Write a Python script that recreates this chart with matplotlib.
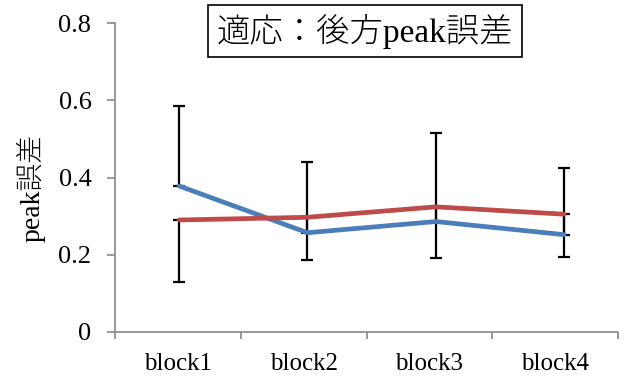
import matplotlib
matplotlib.use("Agg")
import matplotlib.pyplot as plt
from matplotlib.ticker import FixedLocator, NullFormatter

# block categories and the two series (means with one-sided error bars)
blocks = ["block1", "block2", "block3", "block4"]
blue_mean = [0.378, 0.257, 0.286, 0.252]
blue_err_up = [0.207, 0.183, 0.229, 0.173]
red_mean = [0.290, 0.297, 0.324, 0.305]
red_err_down = [0.161, 0.111, 0.132, 0.110]

fonts = ["Liberation Serif", "Noto Sans CJK JP", "DejaVu Sans"]
plt.rcParams["font.family"] = fonts

fig = plt.figure(figsize=(6.33, 3.76), dpi=100)
ax = fig.add_axes([115 / 633, 44 / 376, 503 / 633, 309 / 376])

x = list(range(len(blocks)))
blue = "#4A7EBB"
red = "#BE4B48"

# error bars drawn underneath the lines
ax.errorbar(x, blue_mean, yerr=[[0] * 4, blue_err_up], fmt="none",
            ecolor="black", elinewidth=1.6, capsize=4.5, capthick=1.6, zorder=2)
ax.errorbar(x, red_mean, yerr=[red_err_down, [0] * 4], fmt="none",
            ecolor="black", elinewidth=1.6, capsize=4.5, capthick=1.6, zorder=2)
ax.plot(x, blue_mean, color=blue, lw=3.4, solid_capstyle="round", zorder=3)
ax.plot(x, red_mean, color=red, lw=3.4, solid_capstyle="round", zorder=4)

step = 0.98
ax.set_xlim(-0.5, -0.5 + 4 * step)
ax.set_ylim(0, 0.8)

# category labels sit between boundary tick marks
bounds = [-0.5 + i * step for i in range(5)]
centers = [-0.5 + (i + 0.5) * step for i in range(4)]
ax.xaxis.set_major_locator(FixedLocator(centers))
ax.set_xticklabels(blocks)
ax.xaxis.set_minor_locator(FixedLocator(bounds))
ax.xaxis.set_minor_formatter(NullFormatter())
ax.tick_params(axis="x", which="major", length=0, pad=15, labelsize=18)
ax.tick_params(axis="x", which="minor", length=5, width=1.2, color="#888888")

ax.set_yticks([0, 0.2, 0.4, 0.6, 0.8])
ax.set_yticklabels(["0", "0.2", "0.4", "0.6", "0.8"])
ax.tick_params(axis="y", length=6, width=1.2, color="#888888", pad=11, labelsize=19)

for side in ["top", "right"]:
    ax.spines[side].set_visible(False)
for side in ["left", "bottom"]:
    ax.spines[side].set_color("#888888")
    ax.spines[side].set_linewidth(1.2)

fig.text(31 / 633, 1 - 188 / 376, "peak誤差", rotation=90, ha="center",
         va="center", fontsize=20, fontweight="light", family=fonts)

fig.text(365 / 633, 1 - 31 / 376, "適応：後方peak誤差", ha="center", va="center",
         fontsize=24, fontweight="light", family=fonts,
         bbox=dict(boxstyle="square,pad=0.25", fc="white", ec="black", lw=1.2))

fig.savefig("out.png", dpi=100)
